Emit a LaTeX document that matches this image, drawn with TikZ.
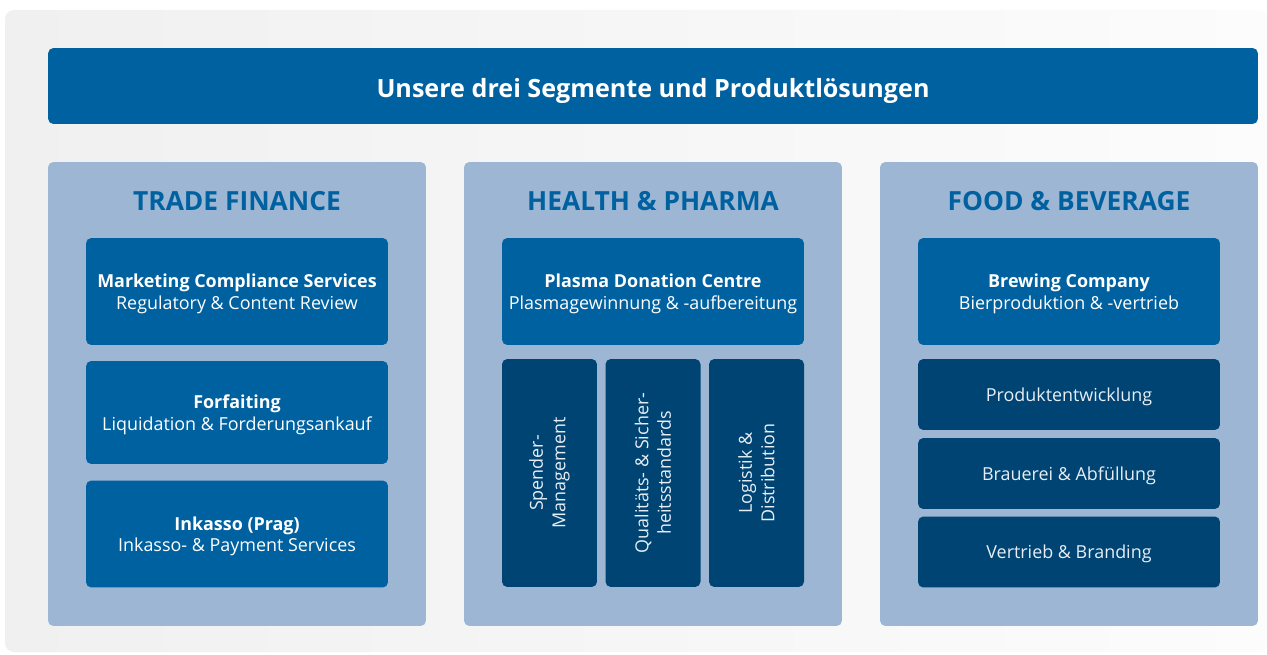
\documentclass[tikz,border=0pt]{standalone}
\usepackage{fontspec}
\setmainfont{Open Sans}
\usepackage{tikz}
\usetikzlibrary{positioning}
\definecolor{midblue}{RGB}{0,97,160}
\definecolor{darkblue}{RGB}{0,68,116}
\definecolor{paleblue}{RGB}{157,182,212}
\definecolor{greyleft}{RGB}{240,240,240}
\definecolor{greyright}{RGB}{252,252,252}
\definecolor{softwhite}{RGB}{232,238,245}
\tikzset{%
    segment/.style={%
        fill=paleblue, rounded corners=3pt, inner sep=0pt,
        minimum width=7.56cm, minimum height=9.28cm},
    seghead/.style={%
        text=midblue, font=\fontsize{15}{17}\selectfont\bfseries},
    product/.style={%
        fill=midblue, rounded corners=3pt, text=white, align=center,
        minimum width=6.04cm, minimum height=2.14cm, text depth=0pt,
        font=\fontsize{10.2}{12.2}\selectfont},
    task/.style={%
        fill=darkblue, rounded corners=3pt, text=softwhite, align=center,
        minimum width=6.04cm, minimum height=1.42cm, text depth=0pt,
        font=\fontsize{10.2}{12.2}\selectfont},
    vtask/.style={%
        fill=darkblue, rounded corners=3pt, text=softwhite, align=center,
        rotate=90, minimum width=4.56cm, minimum height=1.9cm,
        font=\fontsize{10.2}{12.8}\selectfont}
}

\begin{document}
\begin{tikzpicture}[x=0.02cm,y=-0.02cm]
	\useasboundingbox (0,0) rectangle (1267,655);
	\shade[left color=greyleft, right color=greyright, rounded corners=5pt] (5,10) rectangle (1267,652);
	% title bar
	\node[fill=midblue, rounded corners=3pt, text=white, minimum width=24.2cm, minimum height=1.52cm,
	      text height=13pt, text depth=0pt,
	      font=\fontsize{14.3}{16}\selectfont\bfseries](title) at (653,86) {Unsere drei Segmente und Produktlösungen};
	% segment panels
	\node[segment](trade) at (237,394) {};
	\node[segment](health) at (653,394) {};
	\node[segment](food) at (1069,394) {};
	\node[seghead](trade-head) at (237,201) {TRADE FINANCE};
	\node[seghead](health-head) at (653,201) {HEALTH \& PHARMA};
	\node[seghead](food-head) at (1069,201) {FOOD \& BEVERAGE};
	% trade finance
	\node[product](mcs) at (237,291.5) {\textbf{Marketing Compliance Services}\\Regulatory \& Content Review};
	\node[product, minimum height=2.06cm](forf) at (237,412.5) {\textbf{Forfaiting}\\Liquidation \& Forderungsankauf};
	\node[product](inkasso) at (237,534) {\textbf{Inkasso (Prag)}\\Inkasso- \& Payment Services};
	% health & pharma
	\node[product](plasma) at (653,291.5) {\textbf{Plasma Donation Centre}\\Plasmagewinnung \& -aufbereitung};
	\node[vtask](spender) at (549.5,473) {Spender-\\Management};
	\node[vtask](quali) at (653,473) {Qualitäts- \& Sicher-\\heitsstandards};
	\node[vtask](logistik) at (756.5,473) {Logistik \&\\Distribution};
	% food & beverage
	\node[product](brew) at (1069,291.5) {\textbf{Brewing Company}\\Bierproduktion \& -vertrieb};
	\node[task](entw) at (1069,394.5) {Produktentwicklung};
	\node[task](brauerei) at (1069,473.5) {Brauerei \& Abfüllung};
	\node[task](vertrieb) at (1069,552) {Vertrieb \& Branding};
\end{tikzpicture}
\end{document}
